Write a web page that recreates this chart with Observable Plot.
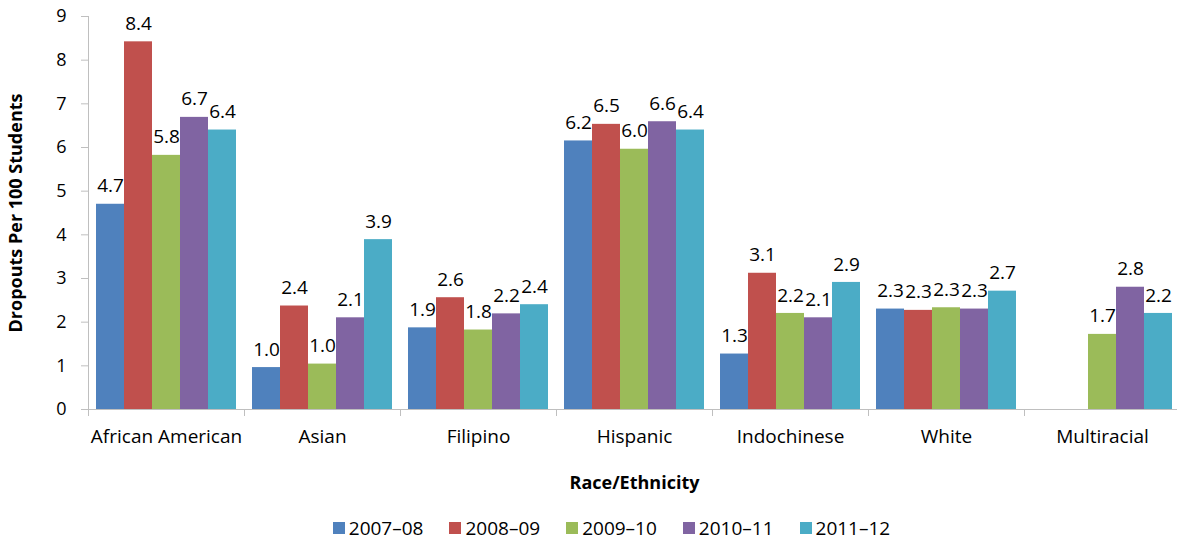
<!DOCTYPE html>
<html>
<head>
<meta charset="utf-8">
<script src="https://cdn.jsdelivr.net/npm/d3@7"></script>
<script src="https://cdn.jsdelivr.net/npm/@observablehq/plot@0.6"></script>
<style>
  html, body { margin: 0; padding: 0; background: #fff; }
  body { font-family: "Open Sans", sans-serif; color: #000; width: 1177px; }
  #legend { display: flex; justify-content: center; align-items: center; margin-top: 16px; padding-left: 46px; font-size: 19px; line-height: 24px; }
  #legend .item { display: flex; align-items: center; margin: 0 13px; }
  #legend .sw { width: 12px; height: 12px; margin-right: 4px; }
</style>
</head>
<body>
<div id="chart"></div>
<div id="legend"></div>
<script>
const categories = ["African American", "Asian", "Filipino", "Hispanic", "Indochinese", "White", "Multiracial"];
const years = ["2007–08", "2008–09", "2009–10", "2010–11", "2011–12"];
const colors = ["#4F81BD", "#C0504D", "#9BBB59", "#8064A2", "#4BACC6"];
const yTicks = [0, 1, 2, 3, 4, 5, 6, 7, 8, 9];

// values by year, in category order (null = no data)
const v2007_08 = [4.70, 0.96, 1.87, 6.15, 1.27, 2.30, null];
const v2008_09 = [8.42, 2.37, 2.56, 6.53, 3.12, 2.27, null];
const v2009_10 = [5.82, 1.04, 1.82, 5.96, 2.20, 2.33, 1.72];
const v2010_11 = [6.69, 2.10, 2.19, 6.59, 2.10, 2.30, 2.80];
const v2011_12 = [6.40, 3.89, 2.40, 6.40, 2.91, 2.71, 2.20];

const series = [v2007_08, v2008_09, v2009_10, v2010_11, v2011_12];
const rows = [];
categories.forEach((c, i) => years.forEach((yr, j) => {
  const v = series[j][i];
  if (v != null) rows.push({category: c, year: yr, value: v});
}));

const fmt = d3.format(".1f");

const chart = Plot.plot({
  width: 1177,
  height: 500,
  marginLeft: 85,
  marginRight: -6,
  marginTop: 16,
  marginBottom: 91,
  style: {fontFamily: "'Open Sans', sans-serif", fontSize: "16px", color: "#000", background: "#fff"},
  fx: {domain: categories, paddingInner: 0, paddingOuter: 0, label: null},
  x: {domain: years, paddingInner: 0, paddingOuter: 0.245, axis: null},
  y: {domain: [0, 9], axis: null},
  color: {domain: years, range: colors},
  marks: [
    Plot.barY(rows, {fx: "category", x: "year", y: "value", fill: "year"}),
    Plot.text(rows, {fx: "category", x: "year", y: "value", text: d => fmt(d.value), dy: -18, fontSize: 19, fill: "#000"}),
    Plot.axisY({ticks: yTicks, tickSize: 7, tickPadding: 15, stroke: "#bfbfbf", fill: "#000", fontSize: 18,
      label: "Dropouts Per 100 Students", labelAnchor: "center", labelArrow: "none", labelOffset: 79}),
    Plot.axisFx({anchor: "bottom", tickSize: 0, tickPadding: 20, fontSize: 19, fill: "#000",
      label: "Race/Ethnicity", labelAnchor: "center", labelArrow: "none", labelOffset: 79})
  ]
});

document.getElementById("chart").appendChild(chart);

// axis lines and group boundary ticks, positioned with the plot's own scales
const fx = chart.scale("fx");
const ys = chart.scale("y");
const svg = d3.select(chart);
const g = svg.append("g").attr("stroke", "#bfbfbf").attr("stroke-width", 1).attr("fill", "none");
const x0 = fx.apply(categories[0]);
const x1 = fx.apply(categories[categories.length - 1]) + fx.bandwidth;
const yb = ys.apply(0), yt = ys.apply(9);
g.append("line").attr("x1", x0 + 0.5).attr("x2", x0 + 0.5).attr("y1", yt).attr("y2", yb + 7);
g.append("line").attr("x1", x0).attr("x2", x1).attr("y1", yb + 0.5).attr("y2", yb + 0.5);
categories.forEach(c => {
  const x = Math.round(fx.apply(c)) + 0.5;
  g.append("line").attr("x1", x).attr("x2", x).attr("y1", yb).attr("y2", yb + 7);
});

// bold axis titles, strip any arrows
svg.selectAll("text").each(function() {
  const t = this.textContent.replace(/[↑↓←→]/g, "").trim();
  if (t === "Dropouts Per 100 Students" || t === "Race/Ethnicity") {
    this.textContent = t;
    d3.select(this).attr("font-weight", "bold").attr("font-size", 18);
  }
});

// legend
const legend = d3.select("#legend");
years.forEach((yr, i) => {
  const item = legend.append("div").attr("class", "item");
  item.append("div").attr("class", "sw").style("background", colors[i]);
  item.append("span").text(yr);
});
</script>
</body>
</html>
